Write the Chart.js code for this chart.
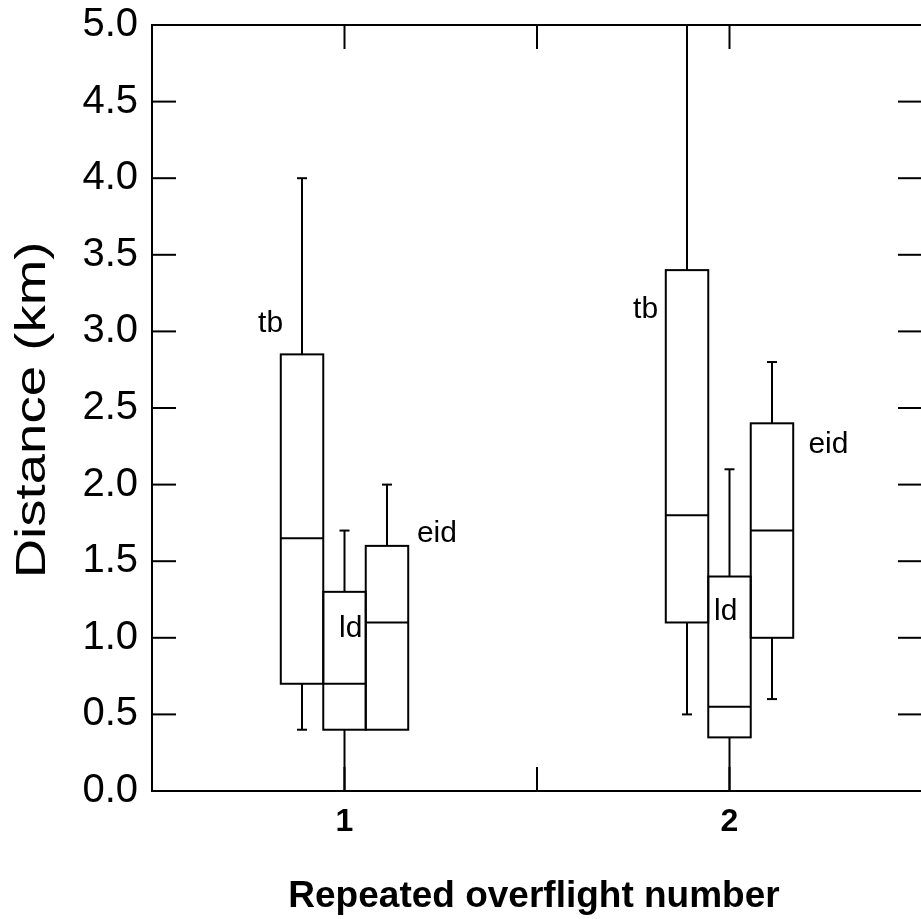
<!DOCTYPE html>
<html>
<head>
<meta charset="utf-8">
<script src="https://cdn.jsdelivr.net/npm/chart.js@4.4.1/dist/chart.umd.min.js"></script>
<style>
  html, body { margin: 0; padding: 0; background: #fff; overflow: hidden; }
  canvas { display: block; }
</style>
</head>
<body>
<canvas id="boxChart" width="930" height="919"></canvas>
<script>
// overflight number on x, three measures per overflight
const categories = ['1', '2'];
const seriesNames = ['tb', 'ld', 'eid'];

// box plot values (km), one entry per overflight
const tbLow = [0.4, 0.5];
const tbQ1 = [0.7, 1.1];
const tbMed = [1.65, 1.8];
const tbQ3 = [2.85, 3.4];
const tbHigh = [4.0, 5.0];

const ldLow = [0.0, 0.0];
const ldQ1 = [0.4, 0.35];
const ldMed = [0.7, 0.55];
const ldQ3 = [1.3, 1.4];
const ldHigh = [1.7, 2.1];

const eidLow = [0.4, 0.6];
const eidQ1 = [0.4, 1.0];
const eidMed = [1.1, 1.7];
const eidQ3 = [1.6, 2.4];
const eidHigh = [2.0, 2.8];

// where the series names sit (category index, km)
const tbLabelX = [-0.192, 0.782];
const tbLabelY = [3.05, 3.14];
const ldLabelX = [0.016, 0.99];
const ldLabelY = [1.06, 1.17];
const eidLabelX = [0.24, 1.257];
const eidLabelY = [1.68, 2.26];

const yMin = 0;
const yMax = 5;
const yStep = 0.5;

const FONT = "'Liberation Sans', Arial, Helvetica, sans-serif";

function makeSet(name, low, q1, med, q3, high, lx, ly) {
  return {
    label: name,
    data: q1.map((v, i) => [v, q3[i]]),
    low: low, q1: q1, med: med, q3: q3, high: high,
    labelX: lx, labelY: ly,
    backgroundColor: '#fff',
    borderWidth: 0,
    categoryPercentage: 0.331,
    barPercentage: 1.0
  };
}

function line(ctx, x1, y1, x2, y2) {
  ctx.beginPath();
  ctx.moveTo(x1, y1);
  ctx.lineTo(x2, y2);
  ctx.stroke();
}

const boxPlugin = {
  id: 'boxPlugin',
  beforeDraw(chart) {
    const ctx = chart.ctx;
    ctx.save();
    ctx.fillStyle = '#fff';
    ctx.fillRect(0, 0, chart.width, chart.height);
    ctx.restore();
  },
  afterDatasetsDraw(chart) {
    const ctx = chart.ctx;
    const y = chart.scales.y;
    const area = chart.chartArea;
    ctx.save();
    ctx.beginPath();
    ctx.rect(area.left, area.top - 1, area.right - area.left, area.bottom - area.top + 2);
    ctx.clip();
    ctx.strokeStyle = '#000';
    ctx.lineWidth = 2;
    chart.data.datasets.forEach((ds, di) => {
      chart.getDatasetMeta(di).data.forEach((bar, i) => {
        const p = bar.getProps(['x', 'width'], true);
        const left = p.x - p.width / 2;
        const right = p.x + p.width / 2;
        const yLow = y.getPixelForValue(ds.low[i]);
        const yQ1 = y.getPixelForValue(ds.q1[i]);
        const yMed = y.getPixelForValue(ds.med[i]);
        const yQ3 = y.getPixelForValue(ds.q3[i]);
        const yHigh = y.getPixelForValue(ds.high[i]);
        // whiskers with small caps
        if (ds.high[i] > ds.q3[i]) {
          line(ctx, p.x, yQ3, p.x, yHigh);
          line(ctx, p.x - 5, yHigh, p.x + 5, yHigh);
        }
        if (ds.low[i] < ds.q1[i]) {
          line(ctx, p.x, yQ1, p.x, yLow);
          line(ctx, p.x - 5, yLow, p.x + 5, yLow);
        }
        ctx.strokeRect(left, yQ3, right - left, yQ1 - yQ3);
        line(ctx, left, yMed, right, yMed);
      });
    });
    ctx.restore();
  },
  afterDraw(chart) {
    const ctx = chart.ctx;
    const x = chart.scales.x;
    const y = chart.scales.y;
    const a = chart.chartArea;
    const tick = 24;
    ctx.save();
    ctx.strokeStyle = '#000';
    ctx.lineWidth = 2;
    ctx.strokeRect(a.left, a.top, a.right - a.left, a.bottom - a.top);
    // inward ticks on every side
    y.ticks.forEach(t => {
      const py = y.getPixelForValue(t.value);
      line(ctx, a.left, py, a.left + tick, py);
      line(ctx, a.right - tick, py, a.right, py);
    });
    [0, 0.5, 1].forEach(v => {
      const px = x.getPixelForValue(v);
      line(ctx, px, a.top, px, a.top + tick);
      line(ctx, px, a.bottom - tick, px, a.bottom);
    });
    // series names beside the boxes
    ctx.fillStyle = '#000';
    ctx.font = '30px ' + FONT;
    ctx.textAlign = 'center';
    ctx.textBaseline = 'middle';
    chart.data.datasets.forEach(ds => {
      ds.labelX.forEach((lx, i) => {
        ctx.fillText(ds.label, x.getPixelForValue(lx), y.getPixelForValue(ds.labelY[i]));
      });
    });
    // axis titles
    ctx.font = 'bold 37px ' + FONT;
    ctx.textBaseline = 'alphabetic';
    ctx.fillText('Repeated overflight number', (a.left + a.right) / 2 - 3, 907);
    ctx.translate(45, 410);
    ctx.rotate(-Math.PI / 2);
    ctx.scale(1.3, 1);
    ctx.font = '42px ' + FONT;
    ctx.fillText('Distance (km)', 0, 0);
    ctx.restore();
  }
};

new Chart(document.getElementById('boxChart'), {
  type: 'bar',
  data: {
    labels: categories,
    datasets: [
      makeSet(seriesNames[0], tbLow, tbQ1, tbMed, tbQ3, tbHigh, tbLabelX, tbLabelY),
      makeSet(seriesNames[1], ldLow, ldQ1, ldMed, ldQ3, ldHigh, ldLabelX, ldLabelY),
      makeSet(seriesNames[2], eidLow, eidQ1, eidMed, eidQ3, eidHigh, eidLabelX, eidLabelY)
    ]
  },
  options: {
    responsive: false,
    animation: false,
    devicePixelRatio: 1,
    layout: { padding: { top: 25, right: 8, bottom: 0, left: 0 } },
    plugins: {
      legend: { display: false },
      tooltip: { enabled: false }
    },
    scales: {
      x: {
        type: 'category',
        offset: true,
        grid: { display: false, drawTicks: false },
        border: { display: false },
        ticks: {
          color: '#000',
          padding: 12,
          font: { family: FONT, size: 32, weight: 'bold' }
        },
        afterFit(scale) {
          scale.height = 128;
          scale.paddingLeft = 0;
          scale.paddingRight = 0;
        }
      },
      y: {
        min: yMin,
        max: yMax,
        grid: { display: false, drawTicks: false },
        border: { display: false },
        ticks: {
          stepSize: yStep,
          color: '#000',
          padding: 14,
          font: { family: FONT, size: 40 },
          callback: v => v.toFixed(1)
        },
        afterFit(scale) {
          scale.width = 152;
          scale.paddingTop = 0;
          scale.paddingBottom = 0;
        }
      }
    }
  },
  plugins: [boxPlugin]
});
</script>
</body>
</html>
